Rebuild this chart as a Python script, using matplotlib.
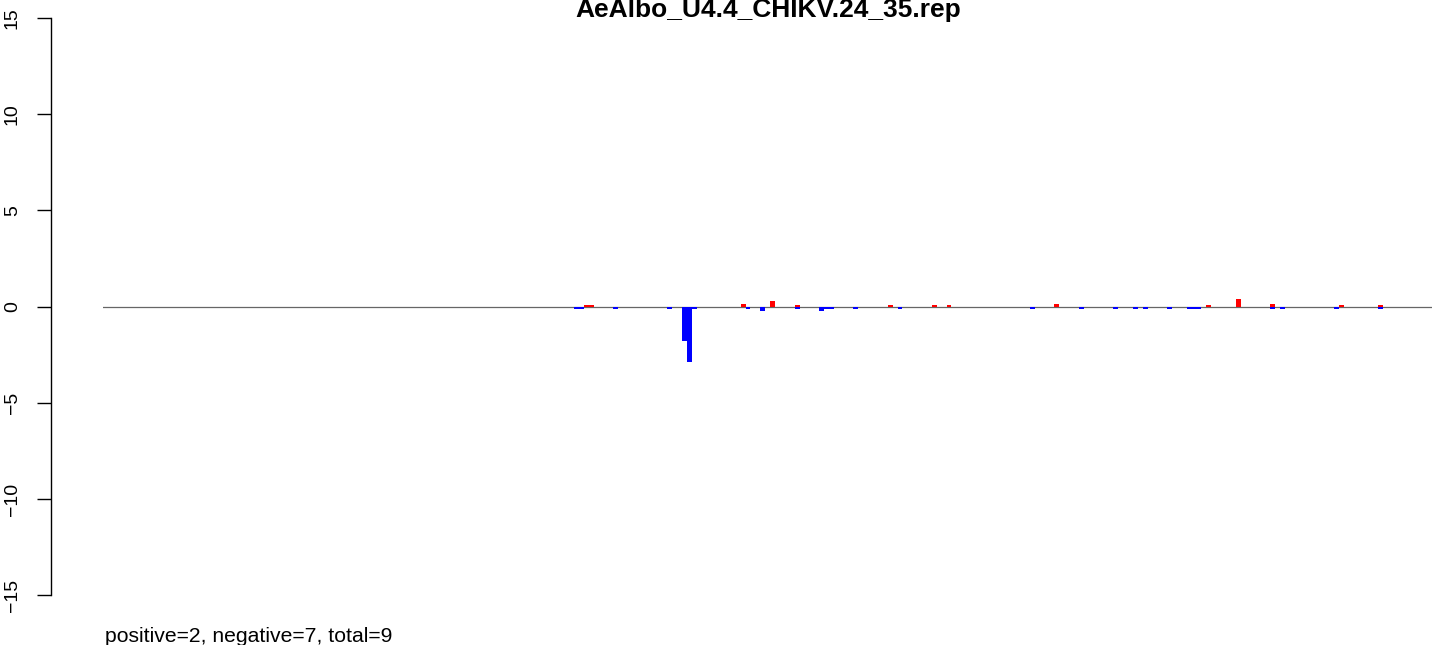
import numpy as np
import matplotlib
matplotlib.use('Agg')
import matplotlib.pyplot as plt

plt.rcParams['font.family'] = ['Liberation Sans', 'DejaVu Sans']

title = 'AeAlbo_U4.4_CHIKV.24_35.rep'
n_bins = 251

# positive (red) bars: bin index -> value
pos_idx = [88, 89, 120, 126, 131, 150, 159, 162, 184, 215, 221, 228, 242, 250]
pos_val = [0.09, 0.09, 0.14, 0.27, 0.1, 0.09, 0.09, 0.09, 0.12, 0.09, 0.38, 0.12, 0.09, 0.09]

# negative (blue) bars
neg_idx = [86, 87, 94, 105, 108, 109, 110, 121, 124, 131, 136, 137, 138, 143, 152,
           179, 189, 196, 200, 202, 207, 211, 212, 213, 228, 230, 241, 250]
neg_val = [-0.1, -0.1, -0.1, -0.1, -1.78, -2.87, -0.1, -0.14, -0.24, -0.14, -0.24,
           -0.14, -0.14, -0.1, -0.1, -0.1, -0.1, -0.14, -0.1, -0.1, -0.1, -0.1,
           -0.1, -0.1, -0.1, -0.1, -0.1, -0.1]

summary = 'positive=2, negative=7, total=9'
yticks = [-15, -10, -5, 0, 5, 10, 15]

W, H = 1441, 645
fig = plt.figure(figsize=(W / 100, H / 100), dpi=100)
ax = fig.add_axes([103.3 / W, 25 / H, (1432 - 103.3) / W, 620 / H])

pos = np.zeros(n_bins)
neg = np.zeros(n_bins)
pos[pos_idx] = pos_val
neg[neg_idx] = neg_val
x = np.arange(n_bins) + 0.5

ax.axhline(0, color='#666666', linewidth=0.9, zorder=1)
ax.bar(x, pos, width=1.0, color='#ff0000', linewidth=0, zorder=2)
ax.bar(x, neg, width=1.0, color='#0000ff', linewidth=0, zorder=2)

ext = 0.04 * n_bins
ax.set_xlim(-ext, n_bins + ext)
ax.set_ylim(-16.275, 15.93)

for s in ['top', 'right', 'bottom']:
    ax.spines[s].set_visible(False)
ax.spines['left'].set_position(('outward', 37.4))
ax.spines['left'].set_bounds(-15, 15)
ax.spines['left'].set_linewidth(1.0)
ax.set_xticks([])
ax.set_yticks(yticks)
ax.set_yticklabels([str(t).replace('-', '\u2212') for t in yticks],
                   rotation=90, va='center', fontsize=14)
ax.tick_params(axis='y', length=10, width=1.0, pad=12)

fig.text(768.5 / W, (H - 17) / H, title, ha='center', va='baseline',
         fontsize=19, fontweight='bold')
fig.text(105 / W, (H - 642) / H, summary, ha='left', va='baseline', fontsize=15.2)

fig.savefig('out.png', dpi=100)
